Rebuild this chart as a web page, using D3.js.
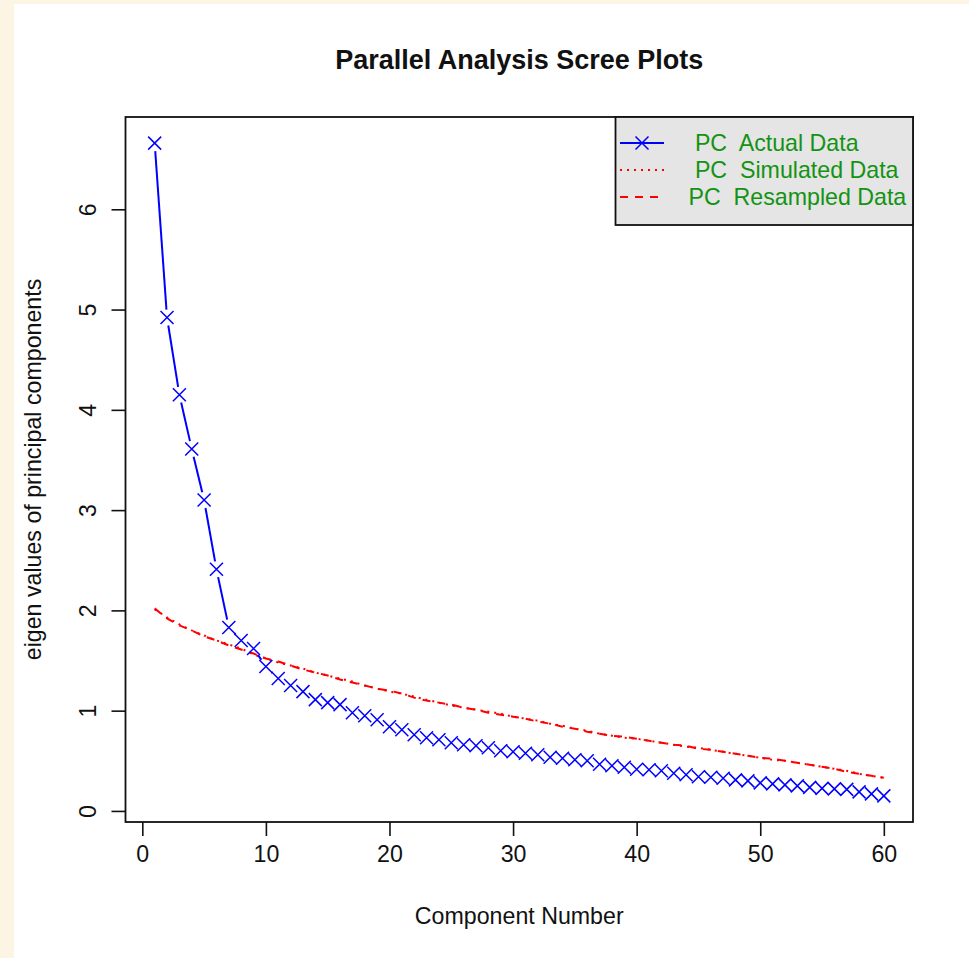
<!DOCTYPE html>
<html>
<head>
<meta charset="utf-8">
<script src="https://cdn.jsdelivr.net/npm/d3@7"></script>
<style>
  html, body { margin: 0; padding: 0; background: #fdf5e3; }
  svg { display: block; }
  text { font-family: "Liberation Sans", Arial, sans-serif; }
</style>
</head>
<body>
<svg id="chart" width="969" height="958"></svg>
<script>
// Eigenvalues of the principal components, component 1..60
const actualData = [
  6.66, 4.92, 4.15, 3.61, 3.10, 2.41, 1.83, 1.70, 1.62, 1.44,
  1.32, 1.25, 1.19, 1.11, 1.08, 1.06, 0.98, 0.95, 0.91, 0.84,
  0.81, 0.76, 0.73, 0.71, 0.68, 0.66, 0.65, 0.63, 0.60, 0.59,
  0.575, 0.56, 0.535, 0.525, 0.51, 0.50, 0.465, 0.45, 0.435, 0.415,
  0.41, 0.40, 0.375, 0.36, 0.34, 0.335, 0.325, 0.31, 0.30, 0.28,
  0.27, 0.26, 0.25, 0.235, 0.225, 0.22, 0.215, 0.19, 0.17, 0.15
];
const simulatedData = [
  2.01, 1.93, 1.86, 1.80, 1.75, 1.70, 1.66, 1.62, 1.56, 1.52,
  1.48, 1.45, 1.42, 1.38, 1.35, 1.32, 1.29, 1.25, 1.22, 1.19,
  1.17, 1.14, 1.11, 1.08, 1.05, 1.03, 1.01, 0.99, 0.97, 0.94,
  0.92, 0.90, 0.87, 0.85, 0.82, 0.80, 0.77, 0.75, 0.73, 0.72,
  0.70, 0.68, 0.66, 0.64, 0.63, 0.61, 0.59, 0.57, 0.55, 0.53,
  0.51, 0.50, 0.48, 0.46, 0.44, 0.42, 0.40, 0.37, 0.35, 0.33
];
const resampledData = [
  2.02, 1.92, 1.85, 1.80, 1.74, 1.70, 1.65, 1.61, 1.57, 1.52,
  1.49, 1.45, 1.41, 1.38, 1.35, 1.31, 1.28, 1.25, 1.22, 1.20,
  1.17, 1.13, 1.10, 1.08, 1.06, 1.03, 1.01, 0.98, 0.96, 0.94,
  0.92, 0.89, 0.87, 0.84, 0.82, 0.79, 0.77, 0.75, 0.74, 0.72,
  0.70, 0.68, 0.66, 0.65, 0.62, 0.61, 0.59, 0.57, 0.55, 0.53,
  0.52, 0.50, 0.48, 0.46, 0.44, 0.42, 0.39, 0.37, 0.35, 0.33
];
const xTicks = [0, 10, 20, 30, 40, 50, 60];
const yTicks = [0, 1, 2, 3, 4, 5, 6];
const legendLabels = ["  PC  Actual Data", "  PC  Simulated Data", " PC  Resampled Data"];
const chartTitle = "Parallel Analysis Scree Plots";
const xTitle = "Component Number";
const yTitle = "eigen values of principal components";

const svg = d3.select("#chart");

// white page area
svg.append("rect").attr("x", 14).attr("y", 4).attr("width", 955).attr("height", 954).attr("fill", "#ffffff");

const box = { left: 125.5, right: 913, top: 117, bottom: 822 };
const n = actualData.length;
const pad = 0.04;
const xMin = 1, xMax = n;
const allVals = actualData.concat(simulatedData, resampledData);
const yMin = d3.min(allVals), yMax = d3.max(allVals);

const x = d3.scaleLinear()
  .domain([xMin - pad * (xMax - xMin), xMax + pad * (xMax - xMin)])
  .range([box.left, box.right]);
const y = d3.scaleLinear()
  .domain([yMin - pad * (yMax - yMin), yMax + pad * (yMax - yMin)])
  .range([box.bottom, box.top]);

const fontSize = 23.2;

// x axis
const xAxis = svg.append("g")
  .attr("transform", `translate(0,${box.bottom})`)
  .call(d3.axisBottom(x).tickValues(xTicks).tickSize(14).tickPadding(10).tickFormat(d3.format("d")));
xAxis.select(".domain").remove();
xAxis.selectAll(".tick line").attr("stroke", "#111").attr("stroke-width", 1.6);
xAxis.selectAll(".tick text").attr("font-size", fontSize).attr("fill", "#111")
  .attr("font-family", "Liberation Sans, Arial, sans-serif");

// y axis with labels parallel to the axis
const yAxis = svg.append("g")
  .attr("transform", `translate(${box.left},0)`)
  .call(d3.axisLeft(y).tickValues(yTicks).tickSize(14).tickFormat(d3.format("d")));
yAxis.select(".domain").remove();
yAxis.selectAll(".tick line").attr("stroke", "#111").attr("stroke-width", 1.6);
yAxis.selectAll(".tick text")
  .attr("font-size", fontSize).attr("fill", "#111")
  .attr("font-family", "Liberation Sans, Arial, sans-serif")
  .attr("x", null).attr("dy", null)
  .attr("text-anchor", "middle")
  .attr("transform", "translate(-30,0) rotate(-90)");

// plot frame
svg.append("rect")
  .attr("x", box.left).attr("y", box.top)
  .attr("width", box.right - box.left).attr("height", box.bottom - box.top)
  .attr("fill", "none").attr("stroke", "#111").attr("stroke-width", 1.8);

// simulated and resampled reference curves
const line = d3.line().x((d, i) => x(i + 1)).y(d => y(d));
svg.append("path").datum(simulatedData)
  .attr("d", line).attr("fill", "none").attr("stroke", "#ff0000")
  .attr("stroke-width", 2).attr("stroke-dasharray", "2,5");
svg.append("path").datum(resampledData)
  .attr("d", line).attr("fill", "none").attr("stroke", "#ff0000")
  .attr("stroke-width", 2).attr("stroke-dasharray", "8,7");

// actual data: line segments with gaps around the markers
const gap = 8;
const segs = [];
for (let i = 0; i < n - 1; i++) {
  const x1 = x(i + 1), y1 = y(actualData[i]);
  const x2 = x(i + 2), y2 = y(actualData[i + 1]);
  const dx = x2 - x1, dy = y2 - y1, len = Math.hypot(dx, dy);
  if (len > 2 * gap) {
    const ux = dx / len, uy = dy / len;
    segs.push([x1 + ux * gap, y1 + uy * gap, x2 - ux * gap, y2 - uy * gap]);
  }
}
svg.append("g").selectAll("line").data(segs).join("line")
  .attr("x1", d => d[0]).attr("y1", d => d[1])
  .attr("x2", d => d[2]).attr("y2", d => d[3])
  .attr("stroke", "#0000ff").attr("stroke-width", 2);

const h = 6.5;
const crossPath = `M${-h},${-h}L${h},${h}M${-h},${h}L${h},${-h}`;
svg.append("g").selectAll("path").data(actualData).join("path")
  .attr("transform", (d, i) => `translate(${x(i + 1)},${y(d)})`)
  .attr("d", crossPath)
  .attr("fill", "none").attr("stroke", "#0000ff").attr("stroke-width", 1.5);

// legend
const lg = svg.append("g");
const lgBox = { x: 615.5, y: box.top, w: box.right - 615.5, h: 108 };
lg.append("rect").attr("x", lgBox.x).attr("y", lgBox.y).attr("width", lgBox.w).attr("height", lgBox.h)
  .attr("fill", "#e5e5e5").attr("stroke", "#111").attr("stroke-width", 1.8);
const rowY = [143, 170, 197];
const styles = [
  { color: "#0000ff", dash: null, marker: true },
  { color: "#ff0000", dash: "2,5", marker: false },
  { color: "#ff0000", dash: "8,7", marker: false }
];
legendLabels.forEach((lab, i) => {
  lg.append("line").attr("x1", 620).attr("x2", 664).attr("y1", rowY[i]).attr("y2", rowY[i])
    .attr("stroke", styles[i].color).attr("stroke-width", 2)
    .attr("stroke-dasharray", styles[i].dash);
  if (styles[i].marker) {
    lg.append("path").attr("transform", `translate(642,${rowY[i]})`)
      .attr("d", crossPath).attr("fill", "none").attr("stroke", "#0000ff").attr("stroke-width", 1.5);
  }
  lg.append("text").attr("x", 682).attr("y", rowY[i] + 8)
    .attr("xml:space", "preserve").style("white-space", "pre")
    .attr("font-size", fontSize).attr("fill", "#139313")
    .text(lab);
});

// titles
svg.append("text").attr("x", (box.left + box.right) / 2).attr("y", 69)
  .attr("text-anchor", "middle").attr("font-size", 27).attr("font-weight", "bold").attr("fill", "#111")
  .text(chartTitle);
svg.append("text").attr("x", (box.left + box.right) / 2).attr("y", 924)
  .attr("text-anchor", "middle").attr("font-size", fontSize).attr("fill", "#111")
  .text(xTitle);
svg.append("text")
  .attr("transform", `translate(41,${(box.top + box.bottom) / 2}) rotate(-90)`)
  .attr("text-anchor", "middle").attr("font-size", fontSize).attr("fill", "#111")
  .text(yTitle);
</script>
</body>
</html>
